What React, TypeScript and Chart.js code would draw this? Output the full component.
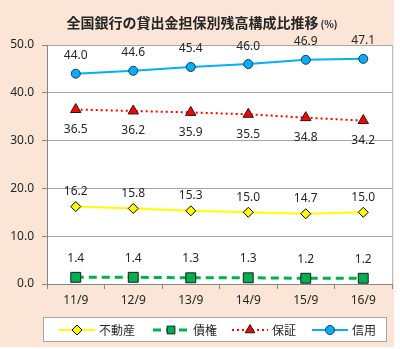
import React, { useEffect, useRef } from 'react';
import { Chart, registerables } from 'chart.js';

Chart.register(...registerables);

const categories = ['11/9', '12/9', '13/9', '14/9', '15/9', '16/9'];
const realEstate = [16.2, 15.8, 15.3, 15.0, 14.7, 15.0];
const claims = [1.4, 1.4, 1.3, 1.3, 1.2, 1.2];
const guarantee = [36.5, 36.2, 35.9, 35.5, 34.8, 34.2];
const credit = [44.0, 44.6, 45.4, 46.0, 46.9, 47.1];
const seriesNames = ['不動産', '債権', '保証', '信用'];
const titleText = '全国銀行の貸出金担保別残高構成比推移';
const titleUnit = '(%)';

const PEACH = '#FBE5D6';
const TEXT = '#262626';
const FONT = '"Noto Sans", "Noto Sans CJK JP", sans-serif';
const CJK = '"Noto Sans CJK JP", "Noto Sans", sans-serif';

type Style = {
  color: string;
  fill: string;
  border: string;
  dash: number[];
  width: number;
  point: string;
  radius: number;
  labelOffset: number;
};

const styles: Style[] = [
  { color: '#FFFF00', fill: '#FFFF00', border: '#000000', dash: [], width: 2, point: 'rectRot', radius: 5, labelOffset: -15 },
  { color: '#00B050', fill: '#00B050', border: '#1a1a1a', dash: [8, 5], width: 3, point: 'rect', radius: 7, labelOffset: -19 },
  { color: '#FF0000', fill: '#FF0000', border: '#1a1a1a', dash: [2, 3], width: 2, point: 'triangle', radius: 6, labelOffset: 20 },
  { color: '#00B0F0', fill: '#00B0F0', border: '#1F3864', dash: [], width: 2, point: 'circle', radius: 4.5, labelOffset: -18 },
];

const seriesData = [realEstate, claims, guarantee, credit];

function drawMarker(ctx: CanvasRenderingContext2D, kind: string, x: number, y: number, r: number, fill: string, border: string) {
  ctx.save();
  ctx.setLineDash([]);
  ctx.beginPath();
  if (kind === 'circle') {
    ctx.arc(x, y, r, 0, Math.PI * 2);
  } else if (kind === 'rect') {
    const s = Math.SQRT1_2 * r;
    ctx.rect(x - s, y - s, 2 * s, 2 * s);
  } else if (kind === 'triangle') {
    const h = r * 1.5;
    ctx.moveTo(x, y - r);
    ctx.lineTo(x + r * 0.866, y + r * 0.5);
    ctx.lineTo(x - r * 0.866, y + r * 0.5);
    ctx.closePath();
    void h;
  } else {
    ctx.moveTo(x, y - r);
    ctx.lineTo(x + r, y);
    ctx.lineTo(x, y + r);
    ctx.lineTo(x - r, y);
    ctx.closePath();
  }
  ctx.fillStyle = fill;
  ctx.fill();
  ctx.lineWidth = 1;
  ctx.strokeStyle = border;
  ctx.stroke();
  ctx.restore();
}

const decorPlugin = {
  id: 'decor',
  beforeDraw(chart: any) {
    const { ctx, chartArea: a } = chart;
    ctx.save();
    ctx.fillStyle = '#ffffff';
    ctx.fillRect(0, 0, chart.width, chart.height);
    ctx.fillStyle = PEACH;
    ctx.fillRect(0, 0, 394, 347);
    ctx.fillStyle = '#ffffff';
    ctx.fillRect(a.left, a.top, a.right - a.left, a.bottom - a.top);
    ctx.restore();
  },
  afterDatasetsDraw(chart: any) {
    const { ctx } = chart;
    ctx.save();
    ctx.font = `12px ${FONT}`;
    ctx.fillStyle = TEXT;
    ctx.textAlign = 'center';
    ctx.textBaseline = 'middle';
    chart.data.datasets.forEach((ds: any, i: number) => {
      const meta = chart.getDatasetMeta(i);
      meta.data.forEach((pt: any, j: number) => {
        const v = ds.data[j] as number;
        ctx.fillText(v.toFixed(1), pt.x, pt.y + styles[i].labelOffset);
      });
    });
    ctx.restore();
  },
  afterDraw(chart: any) {
    const { ctx, chartArea: a } = chart;
    ctx.save();
    // right border of plot area
    ctx.strokeStyle = '#bfbfbf';
    ctx.lineWidth = 1;
    ctx.beginPath();
    ctx.moveTo(Math.round(a.right) + 0.5, a.top);
    ctx.lineTo(Math.round(a.right) + 0.5, a.bottom);
    ctx.stroke();

    // title
    ctx.fillStyle = TEXT;
    ctx.textBaseline = 'middle';
    ctx.font = `bold 14px ${CJK}`;
    const w1 = ctx.measureText(titleText).width;
    ctx.font = `bold 10px ${CJK}`;
    const w2 = ctx.measureText(titleUnit).width;
    const x0 = 202 - (w1 + w2 + 2) / 2;
    ctx.textAlign = 'left';
    ctx.font = `bold 14px ${CJK}`;
    ctx.fillText(titleText, x0, 23);
    ctx.font = `bold 10px ${CJK}`;
    ctx.fillText(titleUnit, x0 + w1 + 2, 24);

    // legend box
    ctx.fillStyle = '#ffffff';
    ctx.fillRect(43, 317, 344, 25);
    ctx.strokeStyle = '#a6a6a6';
    ctx.lineWidth = 1;
    ctx.strokeRect(43.5, 317.5, 343, 24);
    const itemX = [59, 153, 232, 312];
    const ly = 330;
    ctx.font = `12px ${CJK}`;
    seriesNames.forEach((name, i) => {
      const s = styles[i];
      const x = itemX[i];
      ctx.save();
      ctx.strokeStyle = s.color;
      ctx.lineWidth = s.width;
      ctx.setLineDash(s.dash);
      ctx.beginPath();
      ctx.moveTo(x, ly);
      ctx.lineTo(x + 36, ly);
      ctx.stroke();
      ctx.restore();
      drawMarker(ctx, s.point, x + 18, ly, Math.min(s.radius, 5.5), s.fill, s.border);
      ctx.fillStyle = TEXT;
      ctx.textAlign = 'left';
      ctx.textBaseline = 'middle';
      ctx.fillText(name, x + 40, ly);
    });
    ctx.restore();
  },
};

export default function App() {
  const ref = useRef<HTMLCanvasElement | null>(null);
  useEffect(() => {
    if (!ref.current) return;
    const chart = new Chart(ref.current, {
      type: 'line',
      data: {
        labels: categories,
        datasets: seriesNames.map((name, i) => ({
          label: name,
          data: seriesData[i],
          borderColor: styles[i].color,
          borderWidth: styles[i].width,
          borderDash: styles[i].dash,
          pointStyle: styles[i].point as any,
          pointRadius: styles[i].radius,
          pointBackgroundColor: styles[i].fill,
          pointBorderColor: styles[i].border,
          pointBorderWidth: 1,
          tension: 0,
          fill: false,
        })),
      },
      options: {
        animation: false,
        responsive: false,
        maintainAspectRatio: false,
        layout: { padding: { top: 45, right: 8, bottom: 39, left: 0 } },
        plugins: {
          legend: { display: false },
          title: { display: false },
          tooltip: { enabled: false },
        },
        scales: {
          x: {
            type: 'category',
            offset: true,
            grid: {
              offset: true,
              drawOnChartArea: false,
              drawTicks: true,
              tickLength: 5,
              tickColor: '#868686',
            },
            border: { color: '#868686', width: 1 },
            ticks: { color: TEXT, font: { size: 12, family: FONT }, padding: 4, maxRotation: 0 },
            afterFit: (scale: any) => { scale.height = 26; },
          },
          y: {
            min: 0,
            max: 50,
            ticks: {
              stepSize: 10,
              color: TEXT,
              font: { size: 12, family: FONT },
              padding: 8,
              callback: (v: any) => Number(v).toFixed(1),
            },
            grid: { color: '#a6a6a6', tickLength: 5, tickColor: '#868686' },
            border: { color: '#868686', width: 1 },
            afterFit: (scale: any) => { scale.width = 47; },
          },
        },
      },
      plugins: [decorPlugin],
    });
    return () => chart.destroy();
  }, []);
  return (
    <div style={{ position: 'fixed', left: 0, top: 0, width: 400, height: 349 }}>
      <canvas ref={ref} width={400} height={349} style={{ display: 'block', width: 400, height: 349 }} />
    </div>
  );
}
